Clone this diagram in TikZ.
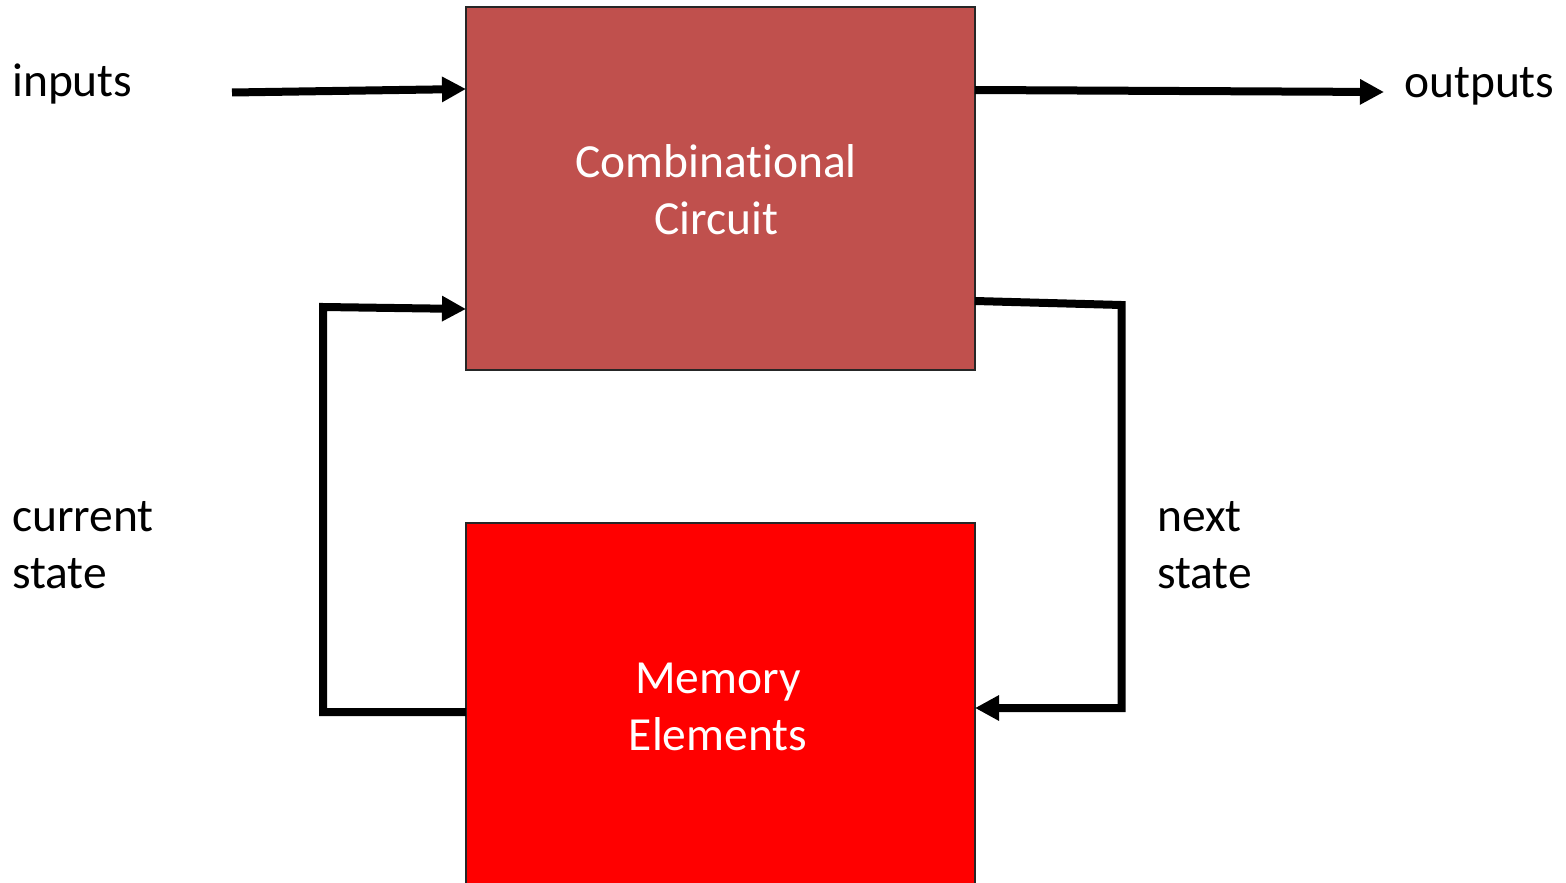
\documentclass[tikz,border=0pt]{standalone}
\usepackage{fontspec}
\setmainfont[Ligatures=NoCommon]{Carlito}
\usetikzlibrary{arrows.meta}
\definecolor{combred}{HTML}{C0504D}
\definecolor{memred}{HTML}{FF0000}
\begin{document}
\begin{tikzpicture}[x=1pt,y=-1pt,
  blockbox/.style={draw=black!85, line width=1.5pt, inner sep=0pt, outer sep=0pt, anchor=north west},
  boxtext/.style={text=white, font=\fontsize{47.5}{57}\selectfont, align=center, inner sep=0pt},
  lbl/.style={font=\fontsize{47.5}{57}\selectfont, align=left, inner sep=0pt, anchor=base west},
  wire/.style={line width=8pt, line join=miter},
  arr/.style={wire, -{Triangle[length=24pt,width=24pt]}}]
\useasboundingbox (0,0) rectangle (1566,883);
\node[blockbox, fill=combred, minimum width=509pt, minimum height=363pt] (comb) at (466,7) {};
\node[blockbox, fill=memred, minimum width=509pt, minimum height=380pt] (mem) at (466,523) {};
\node[boxtext, anchor=base] (combtxt) at (716,234) {Combinational\\Circuit};
\node[boxtext, anchor=base] (memtxt) at (718,750) {Memory\\Elements};
\node[lbl] (inlbl) at (12,96) {inputs};
\node[lbl] (outlbl) at (1404,97) {outputs};
\node[lbl] (curlbl) at (12,588) {current\\state};
\node[lbl] (nextlbl) at (1157,588) {next\\state};
\coordinate (inS) at (232,92.5);
\coordinate (inE) at (466,89);
\coordinate (outS) at (975,90);
\coordinate (outE) at (1384,92);
\draw[arr] (inS) -- (inE);
\draw[arr] (outS) -- (outE);
\coordinate (c1) at (466,712);
\coordinate (c2) at (323,712);
\coordinate (c3) at (323,307);
\coordinate (c4) at (466,309);
\draw[arr] (c1) -- (c2) -- (c3) -- (c4);
\coordinate (n1) at (975,301);
\coordinate (n2) at (1121.5,305);
\coordinate (n3) at (1121.5,708);
\coordinate (n4) at (975,708);
\draw[arr] (n1) -- (n2) -- (n3) -- (n4);
\end{tikzpicture}
\end{document}
